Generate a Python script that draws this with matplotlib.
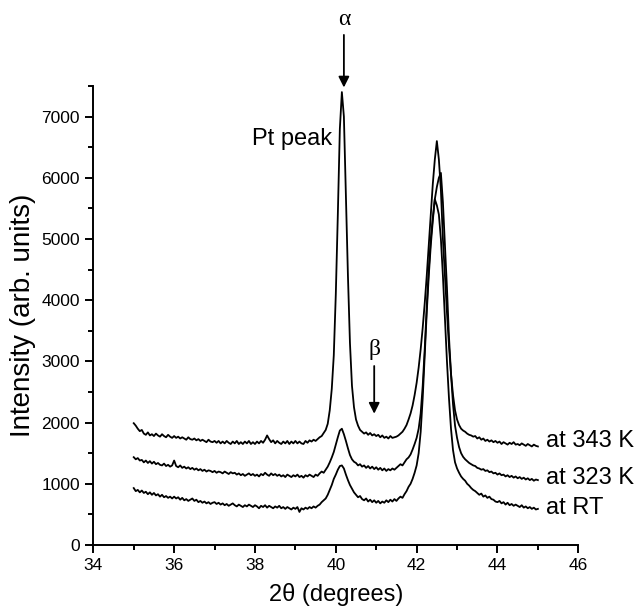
import numpy as np
import matplotlib
matplotlib.use("Agg")
import matplotlib.pyplot as plt
from matplotlib.ticker import MultipleLocator

# 2-theta grid, 0.05 deg steps from 35 to 45
two_theta = np.round(np.arange(35.0, 45.0001, 0.05), 2)

# intensity, one row per 0.5 deg
i_343K = [
    1990, 1950, 1900, 1860, 1880, 1820, 1800, 1840, 1790, 1810,
    1780, 1820, 1790, 1770, 1810, 1780, 1760, 1800, 1770, 1750,
    1780, 1750, 1770, 1740, 1760, 1740, 1720, 1760, 1730, 1720,
    1740, 1710, 1730, 1700, 1720, 1700, 1680, 1720, 1690, 1680,
    1700, 1670, 1700, 1660, 1690, 1660, 1700, 1670, 1650, 1690,
    1660, 1700, 1650, 1680, 1650, 1690, 1660, 1700, 1650, 1680,
    1650, 1690, 1660, 1700, 1670, 1720, 1790, 1730, 1680, 1710,
    1660, 1700, 1670, 1650, 1690, 1660, 1700, 1650, 1690, 1660,
    1700, 1660, 1690, 1660, 1650, 1700, 1670, 1710, 1690, 1720,
    1700, 1730, 1760, 1780, 1830, 1880, 1980, 2200, 2550, 3100,
    4100, 5400, 6800, 7400, 7000, 5700, 4400, 3300, 2600, 2250,
    2050, 1950, 1880, 1850, 1820, 1840, 1800, 1830, 1790, 1810,
    1780, 1800, 1760, 1790, 1750, 1770, 1740, 1780, 1750, 1760,
    1770, 1790, 1820, 1850, 1900, 1960, 2050, 2150, 2280, 2450,
    2650, 2900, 3200, 3550, 3950, 4400, 4900, 5400, 5900, 6300,
    6600, 6300, 5800, 5000, 4400, 3800, 3250, 2800, 2450, 2200,
    2050, 1960, 1900, 1870, 1850, 1820, 1800, 1790, 1770, 1780,
    1740, 1760, 1720, 1740, 1700, 1720, 1690, 1710, 1680, 1700,
    1670, 1690, 1650, 1680, 1660, 1640, 1670, 1650, 1680, 1640,
    1650, 1630, 1660, 1640, 1620, 1650, 1630, 1610, 1640, 1620,
    1610,
]

i_323K = [
    1435, 1400, 1420, 1380, 1390, 1350, 1380, 1340, 1370, 1330,
    1360, 1320, 1340, 1310, 1300, 1330, 1290, 1310, 1280, 1300,
    1380, 1290, 1270, 1300, 1260, 1280, 1250, 1270, 1240, 1260,
    1230, 1250, 1220, 1240, 1210, 1230, 1200, 1220, 1210, 1190,
    1210, 1180, 1200, 1190, 1170, 1200, 1180, 1160, 1190, 1170,
    1180, 1150, 1170, 1140, 1160, 1130, 1150, 1170, 1140, 1160,
    1130, 1150, 1120, 1160, 1140, 1180, 1150, 1130, 1170, 1140,
    1160, 1130, 1150, 1120, 1140, 1110, 1150, 1130, 1110, 1140,
    1120, 1150, 1110, 1130, 1100, 1140, 1120, 1150, 1130, 1110,
    1150, 1130, 1170, 1200, 1180, 1230, 1280, 1350, 1430, 1520,
    1640, 1760, 1870, 1900, 1810, 1700, 1580, 1470, 1400, 1360,
    1340, 1300, 1320, 1280, 1300, 1260, 1290, 1250, 1280, 1240,
    1270, 1230, 1260, 1220, 1250, 1210, 1240, 1220, 1250, 1230,
    1260, 1290, 1320, 1300, 1350, 1400, 1430, 1480, 1560, 1650,
    1750, 1900, 2150, 2600, 3200, 3900, 4500, 5000, 5350, 5650,
    5850, 6000, 6080, 5600, 4900, 4200, 3400, 2800, 2300, 1950,
    1750, 1600, 1500, 1440, 1400, 1370, 1340, 1320, 1300, 1290,
    1260, 1250, 1230, 1240, 1210, 1220, 1190, 1200, 1170, 1180,
    1150, 1170, 1140, 1150, 1120, 1140, 1110, 1130, 1100, 1120,
    1090, 1110, 1080, 1100, 1070, 1090, 1060, 1080, 1050, 1070,
    1060,
]

i_RT = [
    930, 880, 900, 860, 890, 850, 870, 830, 860, 820,
    850, 810, 830, 790, 820, 780, 800, 770, 790, 760,
    790, 760, 780, 740, 770, 730, 750, 720, 740, 760,
    720, 740, 700, 720, 690, 710, 680, 700, 670, 690,
    700, 670, 690, 660, 680, 650, 670, 640, 660, 680,
    650, 630, 660, 640, 620, 650, 630, 660, 640, 620,
    650, 630, 600, 640, 620, 650, 610, 640, 620, 600,
    630, 610, 640, 600, 620, 590, 620, 600, 580, 610,
    590, 620, 540, 600, 580, 610, 590, 620, 600, 630,
    610, 640, 660, 700, 730, 760, 820, 900, 980, 1080,
    1150, 1230, 1290, 1300, 1250, 1150, 1060, 980, 920, 860,
    820, 780, 800, 750, 730, 760, 710, 740, 700, 730,
    690, 720, 680, 710, 690, 730, 700, 740, 710, 750,
    720, 760, 790, 770, 830, 880, 950, 1000, 1080, 1180,
    1300, 1500, 1850, 2400, 3100, 3800, 4400, 4900, 5300, 5650,
    5550, 5400, 5000, 4400, 3700, 3000, 2400, 1900, 1550, 1350,
    1250, 1180, 1120, 1080, 1050, 1000, 970, 930, 900, 880,
    850, 820, 840, 790, 810, 770, 790, 750, 740, 710,
    700, 720, 680, 700, 660, 690, 650, 670, 640, 660,
    640, 620, 650, 610, 630, 600, 620, 590, 610, 580,
    590,
]

series = [i_343K, i_323K, i_RT]
labels = ["at 343 K", "at 323 K", "at RT"]
label_y = [1700, 1090, 610]

plt.rcParams['font.family'] = ['Liberation Sans', 'DejaVu Sans']

fig = plt.figure(figsize=(6.4, 6.12), dpi=100)
ax = fig.add_axes([0.1458, 0.1095, 0.7578, 0.75])

for s in series:
    ax.plot(two_theta, s, color='black', lw=1.3)

ax.set_xlim(34, 46)
ax.set_ylim(0, 7500)
ax.xaxis.set_major_locator(MultipleLocator(2))
ax.xaxis.set_minor_locator(MultipleLocator(1))
ax.yaxis.set_major_locator(MultipleLocator(1000))
ax.yaxis.set_minor_locator(MultipleLocator(500))
ax.spines['top'].set_visible(False)
ax.spines['right'].set_visible(False)
for sp in ['left', 'bottom']:
    ax.spines[sp].set_linewidth(1.4)
ax.tick_params(which='major', direction='out', length=6, width=1.4, labelsize=12.5)
ax.tick_params(which='minor', direction='out', length=3.5, width=1.4)

ax.set_xlabel("2θ (degrees)", fontsize=17, labelpad=7)
ax.set_ylabel("Intensity (arb. units)", fontsize=20, labelpad=4)

# curve labels on the right
for lab, yy in zip(labels, label_y):
    ax.text(45.2, yy, lab, fontsize=17, va='center', ha='left', clip_on=False)

ax.text(39.9, 6640, "Pt peak", fontsize=17, ha='right', va='center')

# alpha and beta markers
ax.text(40.2, 8590, "α", fontsize=17, ha='center', va='center',
        family='Liberation Serif', clip_on=False)
ax.annotate('', xy=(40.2, 7430), xytext=(40.2, 8380),
            arrowprops=dict(arrowstyle='-|>', color='black', lw=1.3, mutation_scale=16),
            annotation_clip=False)
ax.text(40.95, 3200, "β", fontsize=17, ha='center', va='center',
        family='Liberation Serif')
ax.annotate('', xy=(40.95, 2100), xytext=(40.95, 2970),
            arrowprops=dict(arrowstyle='-|>', color='black', lw=1.3, mutation_scale=16))

fig.savefig("out.png", dpi=100)
